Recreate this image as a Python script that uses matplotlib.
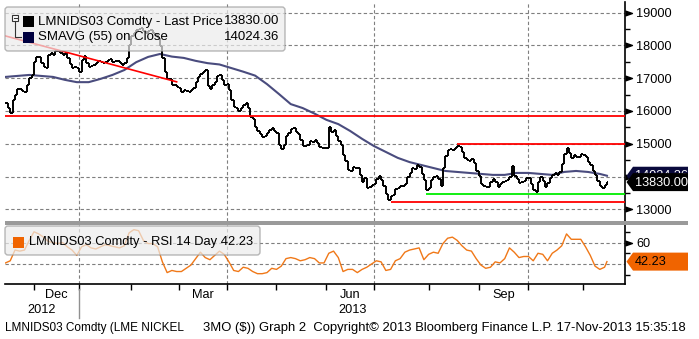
import numpy as np
import pandas as pd
import matplotlib
matplotlib.use("Agg")
import matplotlib.pyplot as plt
from matplotlib.patches import Rectangle, Polygon, FancyBboxPatch
from matplotlib.transforms import blended_transform_factory

plt.rcParams['font.family'] = ['Liberation Sans', 'DejaVu Sans']

# ---------------------------------------------------------------- data
start_date = "2012-11-15"
end_date = "2013-11-15"
lme_holidays = ["2012-12-25", "2012-12-26", "2013-01-01", "2013-03-29",
                "2013-04-01", "2013-05-06", "2013-05-27", "2013-08-26"]

# LME nickel 3M, daily closes (USD/t)
close = [
    16240, 16090, 15940, 16340, 16490, 16670, 16670, 16610, 16580, 16790,
    17010, 17100, 17490, 17650, 17650, 17460, 17340, 17310, 17710, 17770,
    17710, 17830, 17830, 17770, 17710, 17770, 17620, 17430, 17310, 17340,
    17310, 17190, 17560, 17680, 17460, 17340, 17370, 17400, 17460, 17520,
    17490, 17460, 17490, 17560, 17590, 17490, 17520, 17520, 17460, 17400,
    17460, 17620, 18010, 18290, 18380, 18470, 18500, 18530, 18440, 18380,
    18440, 18470, 18380, 18320, 18230, 17980, 17620, 17190, 16980, 16980,
    16790, 16790, 16730, 16700, 16580, 16640, 16610, 16580, 16640, 16700,
    16880, 17040, 17130, 17190, 17250, 16760, 16670, 16790, 16880, 17070,
    17100, 16950, 16790, 16820, 16640, 16340, 16120, 16090, 16000, 16090,
    16180, 16240, 16090, 15820, 15760, 15510, 15390, 15300, 15210, 15240,
    15330, 15420, 15480, 15390, 15330, 14960, 14840, 14960, 15240, 15330,
    15450, 15480, 15360, 15300, 15120, 14930, 14930, 14960, 15090, 15050,
    15120, 15020, 14900, 14870, 14870, 14870, 15510, 15360, 15420, 15240,
    15090, 14960, 14660, 14480, 14200, 14170, 14290, 14260, 14260, 14050,
    13830, 13960, 13650, 13680, 13740, 13770, 13930, 14020, 13900, 13710,
    13470, 13290, 13410, 13440, 13620, 13650, 13710, 13710, 13770, 13990,
    14110, 14260, 14230, 14350, 14290, 14080, 13900, 13590, 13650, 13900,
    13990, 14020, 13930, 13710, 14260, 14630, 14810, 14840, 14810, 14870,
    14930, 14900, 14750, 14570, 14510, 14480, 14540, 14410, 14170, 14020,
    13770, 13710, 13680, 13680, 13830, 13930, 13830, 13680, 13770, 13830,
    13860, 13890, 13990, 14320, 14020, 13930, 13810, 13830, 13860, 13960,
    13960, 13770, 13590, 13530, 13830, 13990, 13860, 13680, 13800, 13960,
    14050, 14110, 14050, 14140, 14380, 14690, 14870, 14720, 14570, 14660,
    14600, 14600, 14690, 14660, 14600, 14450, 14350, 14170, 14050, 13860,
    13710, 13650, 13740, 13830,
]

# 55-day simple moving average, every 5th session plus the last one
sma_every = 5
sma55 = [
    17040, 17070, 17100, 17070, 17040, 16950, 16880, 16880, 16980, 17100,
    17250, 17490, 17650, 17740, 17660, 17620, 17530, 17460, 17420, 17310,
    17200, 17080, 16820, 16520, 16210, 16090, 15920, 15730, 15600, 15390,
    15150, 14930, 14750, 14570, 14440, 14350, 14260, 14170, 14140, 14110,
    14080, 14050, 14050, 14110, 14110, 14080, 14050, 14140, 14170, 14140,
    14080, 14024.36,
]

# 14-day RSI, every 2nd session plus the last one
rsi_every = 2
rsi14 = [
    41, 43, 53, 52, 53, 62, 70, 68, 65, 61,
    60, 59, 60, 56, 53, 48, 56, 58, 55, 54,
    56, 58, 57, 56, 55, 57, 69, 72, 71, 62,
    59, 59, 56, 42, 32, 34, 33, 33, 36, 39,
    45, 51, 46, 44, 48, 52, 49, 42, 34, 33,
    37, 36, 33, 31, 31, 32, 36, 35, 38, 45,
    46, 45, 43, 44, 46, 45, 41, 41, 50, 52,
    46, 33, 35, 35, 32, 35, 37, 40, 43, 42,
    34, 35, 43, 45, 51, 53, 54, 55, 44, 49,
    51, 50, 59, 64, 65, 62, 57, 53, 52, 45,
    39, 36, 37, 42, 41, 45, 55, 51, 46, 47,
    47, 43, 50, 49, 43, 50, 53, 57, 68, 63,
    63, 63, 56, 48, 38, 35, 37, 42.23,
]

last_price = 13830.00
last_sma = 14024.36
last_rsi = 42.23

# drawn trend line and support / resistance levels
trend_dates = ["2012-11-15", "2013-02-28"]
trend_values = [18290, 16890]
level_dates = ["2012-11-15", "2013-08-19", "2013-07-31", "2013-07-10"]
level_values = [15850, 15000, 13460, 13220]
level_colors = ["#ff0000", "#ff0000", "#00ee00", "#ff0000"]

price_ticks = [13000, 14000, 15000, 16000, 17000, 18000, 19000]
price_labels = ["13000", "", "15000", "16000", "17000", "18000", "19000"]
price_minor = [13500, 14500, 15500, 16500, 17500, 18500]
rsi_ticks = [40, 60]
rsi_labels = ["", "60"]
rsi_minor = [30, 50, 70]
month_names = ["Dec", "Mar", "Jun", "Sep"]

footer_left = "LMNIDS03 Comdty (LME NICKEL"
footer_right = "3MO ($)) Graph 2  Copyright\u00a9 2013 Bloomberg Finance L.P. 17-Nov-2013 15:35:18"

# ---------------------------------------------------------------- calendar
dates = pd.bdate_range(start_date, end_date)
dates = dates[~dates.isin(pd.to_datetime(lme_holidays))]
n = len(dates)
idx = np.arange(n)


def day_index(d):
    return int(np.searchsorted(dates.values, np.datetime64(pd.Timestamp(d))))


month_start = [i for i in range(1, n) if dates[i].month != dates[i - 1].month]
quarter_start = [i for i in month_start if dates[i].month in (1, 4, 7, 10)]
year_start = [i for i in month_start if dates[i].month == 1]

XMIN, XMAX = -0.2, 260.6
W, H = 699, 339

fig = plt.figure(figsize=(W / 100, H / 100), dpi=100)
fig.patch.set_facecolor("white")


def frac_box(x0, y0, x1, y1):
    return [x0 / W, 1 - y1 / H, (x1 - x0) / W, (y1 - y0) / H]


ax = fig.add_axes(frac_box(5, 2, 625, 221))
ax2 = fig.add_axes(frac_box(5, 225, 625, 284))
ov = fig.add_axes([0, 0, 1, 1], zorder=10)
ov.set_xlim(0, W)
ov.set_ylim(H, 0)
ov.axis("off")
ov.patch.set_alpha(0)

grid_kw = dict(color="#7f7f7f", lw=0.8, linestyle=(0, (3, 2.2)), zorder=0)

# ---------------------------------------------------------------- price panel
ax.set_xlim(XMIN, XMAX)
ax.set_ylim(12643, 19326)
for v in price_ticks:
    ax.axhline(v, **grid_kw)
for q in quarter_start:
    ax.axvline(q, **grid_kw)

c = np.asarray(close, float)
o = np.r_[c[0], c[:-1]]
hi = np.maximum(o, c)
lo = np.minimum(o, c)
bar_kw = dict(color="black", lw=1.4, zorder=4)
ax.vlines(idx, lo, hi, **bar_kw)
ax.hlines(o, idx - 0.6, idx, **bar_kw)
ax.hlines(c, idx, idx + 0.6, **bar_kw)

sma_x = np.r_[np.arange(0, n, sma_every), n - 1]
ax.plot(sma_x, sma55, color="#4a4c7e", lw=1.5, zorder=3, solid_joinstyle="round")

ax.plot([day_index(d) for d in trend_dates], trend_values, color="#ff0000", lw=1.2, zorder=5)
for d, v, col in zip(level_dates, level_values, level_colors):
    x0 = day_index(d) if d != start_date else XMIN
    ax.hlines(v, x0, XMAX, color=col, lw=1.3, zorder=5)

for s in ["top", "left", "bottom"]:
    ax.spines[s].set_visible(False)
ax.spines["right"].set_linewidth(1.2)
ax.set_xticks([])
ax.yaxis.tick_right()
ax.set_yticks(price_ticks)
ax.set_yticklabels(price_labels)
ax.set_yticks(price_minor, minor=True)
ax.tick_params(axis="y", which="major", length=0, pad=8, labelsize=9.2)
ax.tick_params(axis="y", which="minor", length=3.5, width=1, direction="out")

arrow = [(0, -0.35), (1, 0), (0, 0.35)]
ax.plot(np.full(len(price_ticks), XMAX), price_ticks, linestyle="none",
        marker=arrow, markersize=10, color="black", clip_on=False, zorder=6)

# ---------------------------------------------------------------- RSI panel
ax2.set_xlim(XMIN, XMAX)
ax2.set_ylim(21.4, 76.3)
for v in rsi_ticks:
    ax2.axhline(v, **grid_kw)
for q in quarter_start:
    ax2.axvline(q, **grid_kw)
rsi_x = np.r_[np.arange(0, n, rsi_every), n - 1]
ax2.plot(rsi_x, rsi14, color="#f07818", lw=1.0, zorder=3)

for s in ["top", "left"]:
    ax2.spines[s].set_visible(False)
ax2.spines["right"].set_linewidth(1.2)
ax2.spines["bottom"].set_linewidth(1.2)
ax2.yaxis.tick_right()
ax2.set_yticks(rsi_ticks)
ax2.set_yticklabels(rsi_labels)
ax2.set_yticks(rsi_minor, minor=True)
ax2.tick_params(axis="y", which="major", length=0, pad=8, labelsize=9.2)
ax2.tick_params(axis="y", which="minor", length=3.5, width=1, direction="out")
ax2.plot([XMAX], [60], linestyle="none", marker=arrow, markersize=10,
         color="black", clip_on=False, zorder=6)

ax2.set_xticks(month_start)
ax2.set_xticklabels([])
ax2.tick_params(axis="x", length=4, width=1, direction="out")

bt = blended_transform_factory(ax2.transData, ax2.transAxes)
bounds = [XMIN] + month_start + [n]
for k in range(len(bounds) - 1):
    name = dates[max(int(np.ceil(bounds[k])), 0)].strftime("%b")
    if name in month_names:
        mid = 0.5 * (bounds[k] + bounds[k + 1])
        ax2.text(mid, -0.19, name, transform=bt, ha="center", va="center", fontsize=9.2)
ybounds = [XMIN] + year_start + [XMAX]
for k in range(len(ybounds) - 1):
    mid = 0.5 * (ybounds[k] + ybounds[k + 1])
    yr = dates[max(int(np.ceil(ybounds[k])), 0)].year
    ax2.text(mid, -0.44, str(yr), transform=bt, ha="center", va="center", fontsize=9.2)
for ys in year_start:
    ax2.plot([ys, ys], [-0.09, -0.58], transform=bt, color="#909090", lw=1, clip_on=False)

# ---------------------------------------------------------------- overlay
def to_px(axes, x, y):
    disp = axes.transData.transform((x, y))
    return ov.transData.inverted().transform(disp)


# panel separator
ov.add_patch(Rectangle((5, 221), 683, 4, color="#9a9a9a", lw=0, zorder=1))


def value_tag(py, face, text, color, z, clip_rows=None):
    pts = [(626.5, py), (633, py - 9), (688, py - 9), (688, py + 9), (633, py + 9)]
    ov.add_patch(Polygon(pts, closed=True, facecolor=face, edgecolor="none", zorder=z))
    t = ov.text(635, py + 0.5, text, color=color, fontsize=9.2, ha="left",
                va="center", zorder=z + 0.5)
    if clip_rows is not None:
        clip = Rectangle((626, clip_rows[0]), 62, clip_rows[1] - clip_rows[0],
                         transform=ov.transData, visible=False)
        ov.add_patch(clip)
        t.set_clip_path(clip)


py_sma = to_px(ax, XMAX, last_sma)[1]
py_last = to_px(ax, XMAX, last_price)[1]
py_rsi = to_px(ax2, XMAX, last_rsi)[1]
value_tag(py_sma, "#0a0a3c", f"{last_sma:.2f}", "white", 2, clip_rows=(py_sma - 9, py_last - 9))
value_tag(py_last, "#000000", f"{last_price:.2f}", "white", 4)
value_tag(py_rsi, "#f06400", f"{last_rsi:.2f}", "black", 6)

# price legend
ov.add_patch(FancyBboxPatch((5, 7), 280, 44, boxstyle="round,pad=0,rounding_size=3",
                            facecolor="#ececec", edgecolor="#9a9a9a", lw=1, alpha=0.7))
ov.add_patch(Rectangle((12, 15), 6, 6, facecolor="white", edgecolor="#333333", lw=0.8))
ov.plot([13.5, 16.5], [18, 18], color="#333333", lw=0.8)
ov.plot([15, 15, 21], [21, 37, 37], color="#333333", lw=0.8)
ov.add_patch(Rectangle((23, 16), 11, 11, color="black", lw=0))
ov.add_patch(Rectangle((23, 31.5), 11, 11, color="#000040", lw=0))
ov.text(38, 21.5, "LMNIDS03 Comdty - Last Price", fontsize=9.5, va="center", ha="left")
ov.text(38, 37, "SMAVG (55) on Close", fontsize=9.5, va="center", ha="left")
ov.text(279, 21.5, f"{last_price:.2f}", fontsize=9.5, va="center", ha="right")
ov.text(279, 37, f"{last_sma:.2f}", fontsize=9.5, va="center", ha="right")

# RSI legend
ov.add_patch(FancyBboxPatch((5, 226), 255, 29, boxstyle="round,pad=0,rounding_size=3",
                            facecolor="#ececec", edgecolor="#9a9a9a", lw=1, alpha=0.7))
ov.add_patch(Rectangle((13, 237), 11, 11, color="#f06400", lw=0))
ov.text(29, 242.5, f"LMNIDS03 Comdty - RSI 14 Day {last_rsi:.2f}", fontsize=9.3,
        va="center", ha="left")

# footer: each part sized to fill its own span of the bottom line
renderer = fig.canvas.get_renderer()


def fitted_text(x0, x1, y, s):
    t = ov.text(x0, y, s, fontsize=9, va="center", ha="left")
    width = t.get_window_extent(renderer).width
    t.set_fontsize(9 * (x1 - x0) / width)
    return t


fitted_text(5, 183, 328, footer_left)
fitted_text(203, 686, 328, footer_right)

fig.savefig("out.png", dpi=100, facecolor="white")
